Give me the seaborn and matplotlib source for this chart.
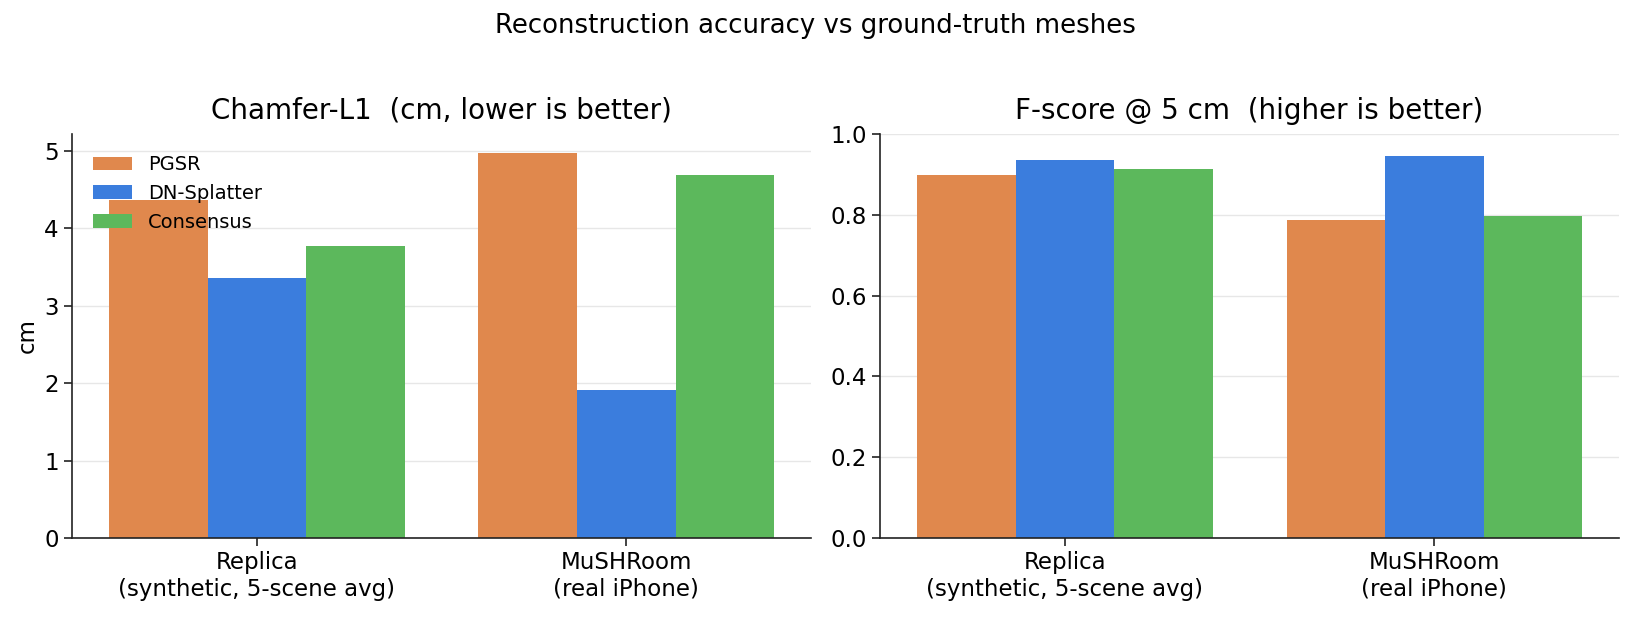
import pandas as pd
import matplotlib.pyplot as plt
import seaborn as sns

# data
datasets = ['Replica\n(synthetic, 5-scene avg)', 'MuSHRoom\n(real iPhone)']
methods = ['PGSR', 'DN-Splatter', 'Consensus']
chamfer_pgsr = [4.37, 4.97]
chamfer_dn = [3.36, 1.91]
chamfer_cons = [3.77, 4.69]
fscore_pgsr = [0.898, 0.786]
fscore_dn = [0.935, 0.945]
fscore_cons = [0.912, 0.796]
colors = ['#E0884D', '#3B7DDD', '#5CB85C']

sns.set_theme(style='white')
plt.rcParams['font.family'] = ['DejaVu Sans']
plt.rcParams['text.color'] = 'black'
plt.rcParams['xtick.color'] = 'black'
plt.rcParams['ytick.color'] = 'black'
plt.rcParams['axes.labelcolor'] = 'black'

rows = []
for m, ch, fs in zip(methods, [chamfer_pgsr, chamfer_dn, chamfer_cons],
                     [fscore_pgsr, fscore_dn, fscore_cons]):
    for d, c, f in zip(datasets, ch, fs):
        rows.append({'dataset': d, 'method': m, 'chamfer': c, 'fscore': f})
df = pd.DataFrame(rows)

fig, (ax1, ax2) = plt.subplots(1, 2, figsize=(16.3, 6.17), dpi=100)
fig.subplots_adjust(left=0.0442, right=0.9933, top=0.783, bottom=0.128, wspace=0.0934)

sns.barplot(data=df, x='dataset', y='chamfer', hue='method', palette=colors,
            order=datasets, hue_order=methods, ax=ax1, saturation=1,
            errorbar=None, linewidth=0)
sns.barplot(data=df, x='dataset', y='fscore', hue='method', palette=colors,
            order=datasets, hue_order=methods, ax=ax2, saturation=1,
            errorbar=None, linewidth=0)

ax1.set_title('Chamfer-L1  (cm, lower is better)', fontsize=20, pad=11)
ax1.set_ylabel('cm', fontsize=16.5)
ax1.set_xlabel('')
ax1.legend(loc='upper left', frameon=False, fontsize=14, borderaxespad=0.7)

ax2.set_title('F-score @ 5 cm  (higher is better)', fontsize=20, pad=11)
ax2.set_ylabel('')
ax2.set_xlabel('')
ax2.set_ylim(0, 1.0)
ax2.get_legend().remove()

for ax in (ax1, ax2):
    ax.yaxis.grid(True, color='#d0d0d0', linewidth=1, alpha=0.5)
    for b in ax.patches:
        b.set_zorder(1)
    for gl in ax.yaxis.get_gridlines():
        gl.set_zorder(2)
    ax.tick_params(axis='both', labelsize=16.5, length=6, width=1.2,
                   left=True, bottom=True, color='#222222')
    sns.despine(ax=ax)
    for s in ('left', 'bottom'):
        ax.spines[s].set_color('#222222')
        ax.spines[s].set_linewidth(1.2)

fig.suptitle('Reconstruction accuracy vs ground-truth meshes', fontsize=18.7, y=0.958, va='center')
fig.savefig('out.png', dpi=100)
